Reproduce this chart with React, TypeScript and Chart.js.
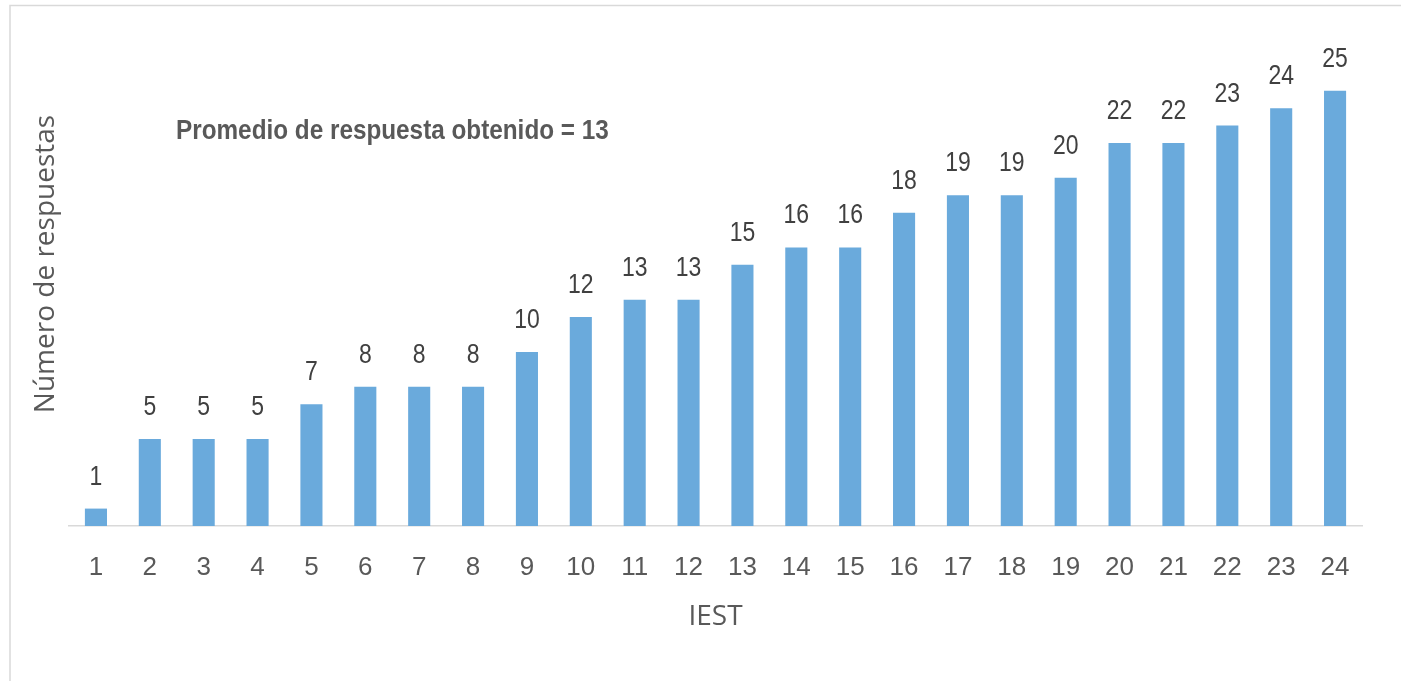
import React, { useEffect, useRef } from "react";
import { Chart, registerables } from "chart.js";

Chart.register(...registerables);

const categories = ["1","2","3","4","5","6","7","8","9","10","11","12","13","14","15","16","17","18","19","20","21","22","23","24"];
const responses = [1, 5, 5, 5, 7, 8, 8, 8, 10, 12, 13, 13, 15, 16, 16, 18, 19, 19, 20, 22, 22, 23, 24, 25];
const yTitle = "Número de respuestas";
const xTitle = "IEST";
const note = "Promedio de respuesta obtenido = 13";

const SANS = "'Liberation Sans', Arial, sans-serif";
const TITLEFONT = "'Open Sans', 'Noto Sans', sans-serif";

const framePlugin = {
  id: "frame",
  beforeDraw(chart: any) {
    const ctx = chart.ctx;
    ctx.save();
    ctx.fillStyle = "#ffffff";
    ctx.fillRect(0, 0, chart.width, chart.height);
    ctx.strokeStyle = "#d9d9d9";
    ctx.lineWidth = 1.5;
    ctx.beginPath();
    ctx.moveTo(10, chart.height + 5);
    ctx.lineTo(10, 5.5);
    ctx.lineTo(chart.width + 5, 5.5);
    ctx.stroke();
    ctx.restore();
  },
};

function narrowText(ctx: any, text: string, x: number, y: number, sx: number) {
  ctx.save();
  ctx.translate(x, y);
  ctx.scale(sx, 1);
  ctx.fillText(text, 0, 0);
  ctx.restore();
}

const labelsPlugin = {
  id: "valueLabels",
  afterDatasetsDraw(chart: any) {
    const ctx = chart.ctx;
    const meta = chart.getDatasetMeta(0);
    const data = chart.data.datasets[0].data;
    ctx.save();
    ctx.font = `28px ${SANS}`;
    ctx.fillStyle = "#404040";
    ctx.textAlign = "center";
    ctx.textBaseline = "alphabetic";
    meta.data.forEach((bar: any, i: number) => {
      narrowText(ctx, String(data[i]), bar.x, bar.y - 24, 0.82);
    });
    ctx.font = `bold 27px ${SANS}`;
    ctx.fillStyle = "#595959";
    ctx.textAlign = "left";
    narrowText(ctx, note, 176, 139, 0.9);
    ctx.restore();
  },
};

export default function App() {
  const ref = useRef<HTMLCanvasElement | null>(null);
  useEffect(() => {
    if (!ref.current) return;
    const chart = new Chart(ref.current, {
      type: "bar",
      data: {
        labels: categories,
        datasets: [
          {
            data: responses,
            backgroundColor: "#6aaadc",
            borderWidth: 0,
            categoryPercentage: 1,
            barPercentage: 0.41,
          },
        ],
      },
      options: {
        animation: false,
        responsive: true,
        maintainAspectRatio: false,
        layout: { padding: { left: 10, right: 39, top: 2, bottom: 47 } },
        plugins: {
          legend: { display: false },
          tooltip: { enabled: false },
          title: { display: false },
        },
        scales: {
          x: {
            grid: { display: false },
            border: { display: true, color: "#d9d9d9", width: 1.5 },
            ticks: {
              padding: 18,
              color: "#595959",
              font: { family: SANS, size: 26 },
              maxRotation: 0,
              autoSkip: false,
            },
            title: {
              display: true,
              text: xTitle,
              color: "#595959",
              font: { family: TITLEFONT, size: 28 },
              padding: 0,
            },
            afterFit(scale: any) {
              scale.height = 108;
            },
          },
          y: {
            min: 0,
            max: 30.1,
            grid: { display: false },
            border: { display: false },
            ticks: { display: false },
            title: {
              display: true,
              text: yTitle,
              color: "#595959",
              font: { family: TITLEFONT, size: 28 },
              padding: { top: 19, bottom: 0 },
            },
            afterFit(scale: any) {
              scale.width = 59;
            },
          },
        },
      },
      plugins: [framePlugin, labelsPlugin],
    });
    return () => chart.destroy();
  }, []);
  return (
    <div style={{ position: "absolute", left: 0, top: 0, width: 1401, height: 681, background: "#fff" }}>
      <canvas ref={ref} />
    </div>
  );
}
